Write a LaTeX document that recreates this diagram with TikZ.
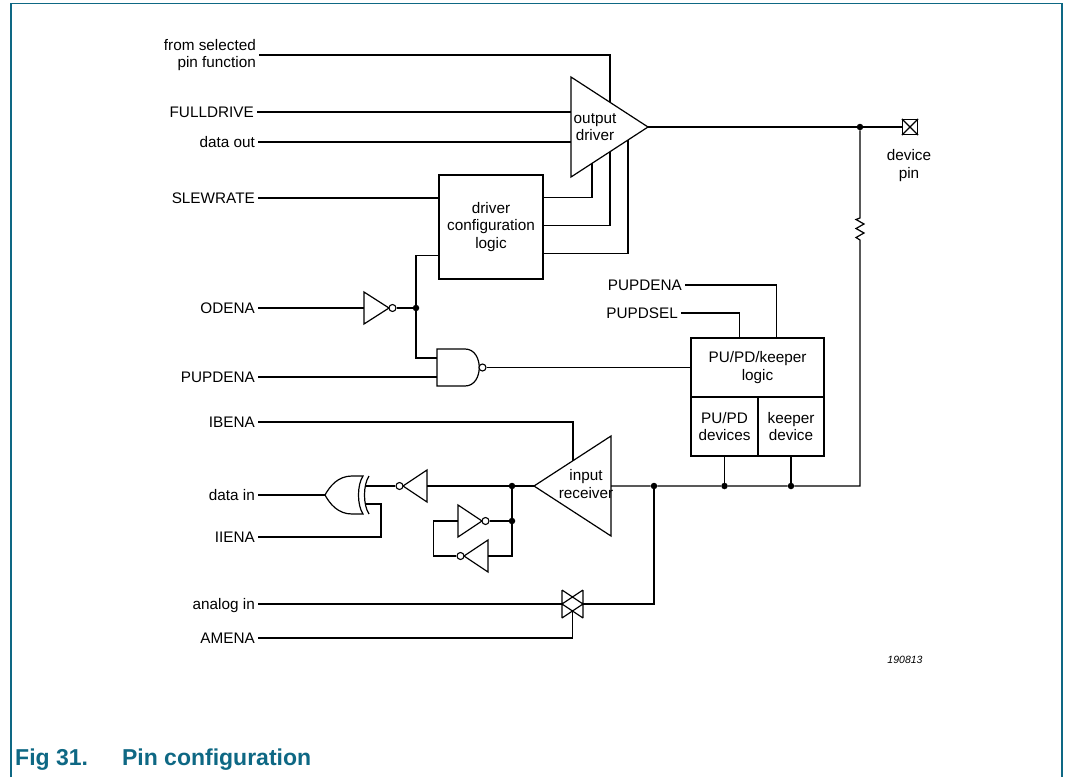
\documentclass[tikz,border=0pt]{standalone}
\usepackage{fontspec}
\setmainfont{Liberation Sans}
\usetikzlibrary{calc}
\definecolor{nxpteal}{RGB}{14,104,132}
\begin{document}
\begin{tikzpicture}[x=1pt,y=-1pt,
  wire/.style={line width=1.2pt, line join=miter},
  gate/.style={draw, line width=1.2pt, line join=miter, fill=white},
  lbl/.style={anchor=east, inner xsep=3pt, inner ysep=0pt, align=right, text height=10.7pt, text depth=0pt, font=\fontsize{15.3}{17.5}\selectfont},
  lbltwo/.style={anchor=east, inner xsep=3pt, inner ysep=0pt, align=right, font=\fontsize{15.3}{17.5}\selectfont},
  txt/.style={inner sep=0pt, align=center, font=\fontsize{15.3}{17.5}\selectfont},
  blk/.style={draw, line width=1.6pt, inner sep=0pt, align=center, font=\fontsize{15.3}{17.5}\selectfont},
  jdot/.style={circle, fill, inner sep=0pt, minimum size=6.5pt},
  bub/.style={circle, draw, fill=white, inner sep=0pt, minimum size=7pt, line width=1.1pt},
]
\useasboundingbox (0,0) rectangle (1066,777);
% frame
\draw[nxpteal, line width=1.8pt] (11,777) -- (11,3.5) -- (1062,3.5) -- (1062,777);

% left labels
\node[lbltwo] (fsp) at (259,55) {from selected\\pin function};
\node[lbl] (fd) at (257,112) {FULLDRIVE};
\node[lbl] (dout) at (258,142) {data out};
\node[lbl] (slew) at (258,198) {SLEWRATE};
\node[lbl] (oden) at (258,308) {ODENA};
\node[lbl] (pupa) at (258,377) {PUPDENA};
\node[lbl] (iben) at (258,422) {IBENA};
\node[lbl] (din) at (258,495) {data in};
\node[lbl] (iien) at (258,537) {IIENA};
\node[lbl] (ain) at (258,604) {analog in};
\node[lbl] (amen) at (258,638) {AMENA};
\node[lbl] (pupb) at (685,285) {PUPDENA};
\node[lbl] (psel) at (681,313) {PUPDSEL};

% output driver
\coordinate (odA) at (571,77);
\coordinate (odB) at (571,177);
\coordinate (odT) at (648,127);
\draw[gate] (odA) -- (odT) -- (odB) -- cycle;
\node[txt] (odtx) at (595,127) {output\\driver};
\coordinate (odU) at ($(odA)!0.5065!(odT)$);
\coordinate (odL1) at ($(odB)!0.2727!(odT)$);
\coordinate (odL2) at ($(odB)!0.5065!(odT)$);
\coordinate (odL3) at ($(odB)!0.7403!(odT)$);
\draw[wire] (fsp.east) -| (odU);
\draw[wire] (fd.east) -- (fd.east -| odA);
\draw[wire] (dout.east) -- (dout.east -| odA);

% driver configuration logic
\node[blk, minimum width=104pt, minimum height=104pt] (dcl) at (491,227) {driver\\configuration\\logic};
\draw[wire] ($(dcl.north east)+(0,23)$) -| (odL1);
\draw[wire] ($(dcl.north east)+(0,51)$) -| (odL2);
\draw[wire] ($(dcl.north east)+(0,79)$) -| (odL3);
\draw[wire] (slew.east) -- (slew.east -| dcl.west);

% ODENA inverter
\coordinate (i1in) at (364,308);
\draw[gate] (364,292) -- (389,308) -- (364,324) -- cycle;
\node[bub] (i1b) at (392.5,308) {};
\node[jdot] (j1) at (416,308) {};
\draw[wire] (oden.east) -- (i1in);
\draw[wire] (i1b.east) -- (j1);
\draw[wire] ($(dcl.north west)+(0,81)$) -| (j1);

% NAND
\draw[gate] (437,349) -- (465,349) .. controls (484,349) and (484,386) .. (465,386) -- (437,386) -- cycle;
\node[bub] (ndb) at (482.5,367.5) {};
\coordinate (ndi1) at (437,358);
\coordinate (ndi2) at (437,377);
\draw[wire] (j1) |- (ndi1);
\draw[wire] (pupa.east) -- (ndi2);

% PU/PD keeper block
\node[blk, minimum width=133pt, minimum height=59pt] (pkl) at (757.5,367.5) {PU/PD/keeper\\logic};
\node[blk, minimum width=67pt, minimum height=59pt] (pdd) at (724.5,426.5) {PU/PD\\devices};
\node[blk, minimum width=66pt, minimum height=59pt] (kpd) at (791,426.5) {keeper\\device};
\draw[wire] (ndb.east) -- (ndb.east -| pkl.west);
\draw[wire] (pupb.east) -| ($(pkl.north west)+(86,0)$);
\draw[wire] (psel.east) -| ($(pkl.north west)+(49,0)$);

% input receiver
\coordinate (irT) at (534,486);
\coordinate (irA) at (611,436);
\coordinate (irB) at (611,536);
\coordinate (irR) at (611,486);
\draw[gate] (irA) -- (irT) -- (irB) -- cycle;
\node[txt] (irtx) at (586,484) {input\\receiver};
\coordinate (irU) at ($(irT)!0.5065!(irA)$);
\draw[wire] (iben.east) -| (irU);

% bus and pin
\node[jdot] (j4) at (654,486) {};
\node[jdot] (j5) at (pdd.south |- j4) {};
\node[jdot] (j6) at (kpd.south |- j4) {};
\node[jdot] (j0) at (860,127) {};
\coordinate (busE) at (860,486);
\coordinate (rBot) at (860,240);
\coordinate (rTop) at (860,218);
\draw[wire] (pdd.south) -- (j5);
\draw[wire] (kpd.south) -- (j6);
\draw[wire] (irR) -- (j4) -- (j5) -- (j6) -- (busE) -- (rBot)
  -- (856,237.5) -- (864,233) -- (856,228.5) -- (864,224) -- (856,219.5) -- (rTop) -- (j0);
\node[draw, line width=1.2pt, minimum size=15pt, inner sep=0pt] (pin) at (910,127) {};
\draw[wire] (pin.north west) -- (pin.south east) (pin.south west) -- (pin.north east);
\draw[wire] (odT) -- (j0) -- (pin.west);
\node[txt] (pintx) at (909,165.5) {device\\pin};

% receiver output inverter
\node[jdot] (j2) at (512,486) {};
\coordinate (i2R) at (427,486);
\draw[gate] (427,470) -- (403,486) -- (427,502) -- cycle;
\node[bub] (i2b) at (399.5,486) {};
\draw[wire] (irT) -- (j2) -- (i2R);

% XOR
\coordinate (xorT) at (325,495);
\coordinate (xorI1) at (366,486);
\coordinate (xorI2) at (366,504);
\draw[gate] (363,476) -- (352,476) .. controls (338,476) and (330,486) .. (xorT)
  .. controls (330,504) and (338,514) .. (352,514) -- (363,514)
  .. controls (357,505) and (357,485) .. (363,476) -- cycle;
\draw[wire] (369,476) .. controls (363,485) and (363,505) .. (369,514);
\draw[wire] (i2b.west) -- (xorI1);
\draw[wire] (xorT) -- (din.east);
\draw[wire] (xorI2) -- ++(15,0) |- (iien.east);

% keeper latch
\node[jdot] (j3) at (512,521) {};
\coordinate (i4R) at (488,556);
\coordinate (i3L) at (458,521);
\draw[gate] (488,540) -- (464,556) -- (488,572) -- cycle;
\node[bub] (i4b) at (460.5,556) {};
\draw[gate] (458,505) -- (482,521) -- (458,537) -- cycle;
\node[bub] (i3b) at (485.5,521) {};
\draw[wire] (j2) -- (j3) -- (512,556) -- (i4R);
\draw[wire] (i3b.east) -- (j3);
\draw[wire] (i4b.west) -- ++(-23,0) |- (i3L);

% analog switch
\coordinate (swL) at (562,604);
\coordinate (swR) at (583,604);
\coordinate (swG) at (572.5,611);
\draw[wire] (562,590) -- (562,618) (583,590) -- (583,618)
  (562,590) -- (583,604) -- (562,618) (583,590) -- (562,604) -- (583,618);
\draw[wire] (ain.east) -- (swL);
\draw[wire] (swR) -| (j4);
\draw[wire] (amen.east) -| (swG);

% figure id and caption
\node[inner sep=0pt, font=\itshape\fontsize{10.5}{12}\selectfont] (fid) at (905,660) {190813};
\node[anchor=base west, inner sep=0pt, text=nxpteal, font=\bfseries\fontsize{23}{27}\selectfont] (cap) at (15,765) {Fig 31.\hspace{34pt}Pin configuration};
\end{tikzpicture}
\end{document}
